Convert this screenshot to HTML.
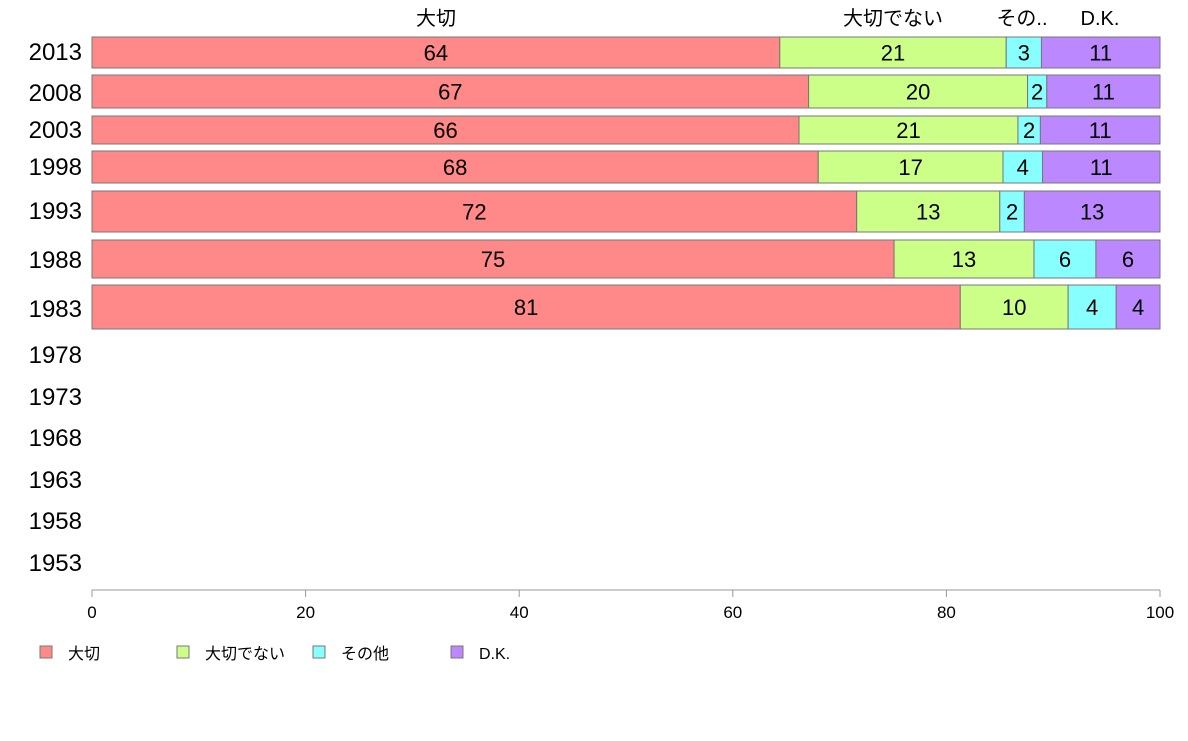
<!DOCTYPE html>
<html><head><meta charset="utf-8"><style>
body{margin:0;background:#fff;font-family:"Liberation Sans","Noto Sans CJK JP",sans-serif;}
svg text{font-family:"Liberation Sans","Noto Sans CJK JP",sans-serif;}
</style></head><body>
<svg id="chart" width="1188" height="736" xmlns="http://www.w3.org/2000/svg"></svg>
<script>
const years=["2013","2008","2003","1998","1993","1988","1983","1978","1973","1968","1963","1958","1953"];
const seriesNames=["大切","大切でない","その他","D.K."];
const valImportant=[64.4,67.1,66.2,68.0,71.6,75.1,81.3];
const valNotImportant=[21.2,20.5,20.5,17.3,13.4,13.1,10.1];
const valOther=[3.3,1.8,2.1,3.7,2.3,5.8,4.5];
const valDK=[11.1,10.6,11.2,11.0,12.7,6.0,4.1];
const labImportant=[64,67,66,68,72,75,81];
const labNotImportant=[21,20,21,17,13,13,10];
const labOther=[3,2,2,4,2,6,4];
const labDK=[11,11,11,11,13,6,4];
const xTicks=[0,20,40,60,80,100];
const colors=["#ff8888","#ccff88","#88ffff","#bb88ff"];
// layout
const rowTop=[37,75,116,151,191,240,285];
const rowBot=[68,108,144,183,232,278,329];
const labelY=[52,93,130,167,211,260,309,355,397,438,480,521,563];
const x=v=>92+v*10.68;
const svg=document.getElementById('chart');
const NS="http://www.w3.org/2000/svg";
function mk(t,a,txt){const e=document.createElementNS(NS,t);for(const k in a)e.setAttribute(k,a[k]);if(txt!==undefined)e.textContent=txt;svg.appendChild(e);return e;}
const vals=[valImportant,valNotImportant,valOther,valDK];
const labs=[labImportant,labNotImportant,labOther,labDK];
years.forEach((y,i)=>{
  const t=mk('text',{x:82,y:labelY[i]+8,'text-anchor':'end','font-size':24,fill:'#000'},y);
  
  
});
for(let i=0;i<valImportant.length;i++){
  let acc=0;
  for(let s=0;s<4;s++){
    const v=vals[s][i];
    const r=mk('rect',{x:x(acc),y:rowTop[i],width:x(acc+v)-x(acc),height:rowBot[i]-rowTop[i],fill:colors[s],stroke:'#777','stroke-width':1});
    
    
    const t=mk('text',{x:(x(acc)+x(acc+v))/2,y:(rowTop[i]+rowBot[i])/2+8,'text-anchor':'middle','font-size':22,fill:'#000'},labs[s][i]);
    
    
    acc+=v;
  }
}
const ax=mk('line',{x1:92,y1:590,x2:1160,y2:590,stroke:'#999','stroke-width':1});


xTicks.forEach(v=>{
  const l=mk('line',{x1:x(v),y1:590,x2:x(v),y2:597,stroke:'#999'});
  
  
  const t=mk('text',{x:x(v),y:618,'text-anchor':'middle','font-size':17,fill:'#000'},v);
  
  
});
const topLabels=["大切","大切でない","その..","D.K."];
const topX=[436,893,1022,1100];
topLabels.forEach((s,i)=>{
  const t=mk('text',{x:topX[i],y:25,'text-anchor':'middle','font-size':20,fill:'#000'},s);
  
  
});
const legX=[40,177,313,451];
seriesNames.forEach((s,i)=>{
  const r=mk('rect',{x:legX[i],y:646,width:12,height:12,fill:colors[i],stroke:'#777'});
  
  
  const t=mk('text',{x:legX[i]+28,y:659,'font-size':16,fill:'#000'},s);
  
  
});
</script>
</body></html>
